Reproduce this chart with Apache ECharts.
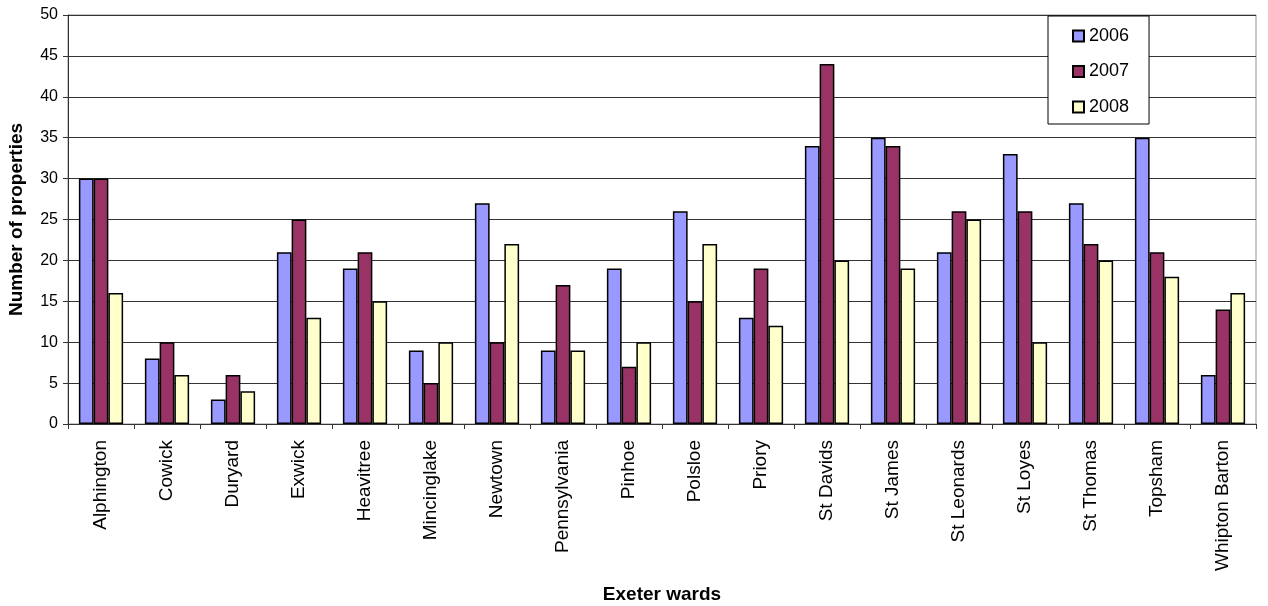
<!DOCTYPE html>
<html>
<head>
<meta charset="utf-8">
<script src="https://cdn.jsdelivr.net/npm/echarts@6/dist/echarts.min.js"></script>
<style>
  html, body { margin: 0; padding: 0; background: #fff; }
  #chart { width: 1268px; height: 606px; }
</style>
</head>
<body>
<div id="chart"></div>
<script>
// Wards of Exeter along the category axis
const wards = ['Alphington', 'Cowick', 'Duryard', 'Exwick', 'Heavitree', 'Mincinglake',
  'Newtown', 'Pennsylvania', 'Pinhoe', 'Polsloe', 'Priory', 'St Davids', 'St James',
  'St Leonards', 'St Loyes', 'St Thomas', 'Topsham', 'Whipton Barton'];

// Number of properties per ward, one array per year
const years = ['2006', '2007', '2008'];
const values2006 = [30, 8, 3, 21, 19, 9, 27, 9, 19, 26, 13, 34, 35, 21, 33, 27, 35, 6];
const values2007 = [30, 10, 6, 25, 21, 5, 10, 17, 7, 15, 19, 44, 34, 26, 26, 22, 21, 14];
const values2008 = [16, 6, 4, 13, 15, 10, 22, 9, 10, 22, 12, 20, 19, 25, 10, 20, 18, 16];

const yTicks = { min: 0, max: 50, interval: 5 };

const FONT = '"Liberation Sans", Arial, sans-serif';
const colors = ['#9999FF', '#993366', '#FFFFCC'];
const seriesData = [values2006, values2007, values2008];

const chart = echarts.init(document.getElementById('chart'));
chart.setOption({
  animation: false,
  backgroundColor: '#ffffff',
  textStyle: { fontFamily: FONT, color: '#000' },
  grid: {
    left: 68, right: 12, top: 15, bottom: 182,
    containLabel: false,
    outerBoundsMode: 'none',
    show: true, borderColor: '#909090', borderWidth: 1, backgroundColor: 'transparent'
  },
  legend: {
    orient: 'vertical',
    left: 1048, top: 16,
    padding: [11, 20, 8, 24],
    itemGap: 17.5,
    itemWidth: 11, itemHeight: 11,
    icon: 'rect',
    borderColor: '#000', borderWidth: 1,
    backgroundColor: '#fff',
    textStyle: { fontFamily: FONT, fontSize: 18, color: '#000', padding: [0, 0, 0, 0] },
    data: years
  },
  xAxis: {
    type: 'category',
    data: wards,
    name: 'Exeter wards',
    nameLocation: 'middle',
    nameGap: 161,
    nameTextStyle: { fontFamily: FONT, fontSize: 19, fontWeight: 'bold', color: '#000' },
    axisLine: { lineStyle: { color: '#333', width: 1 } },
    axisTick: { show: true, length: 5, lineStyle: { color: '#333' } },
    axisLabel: {
      rotate: 90, interval: 0, margin: 16,
      fontFamily: FONT, fontSize: 19, color: '#000'
    }
  },
  yAxis: {
    type: 'value',
    min: yTicks.min, max: yTicks.max, interval: yTicks.interval,
    name: 'Number of properties',
    nameLocation: 'middle',
    nameGap: 42,
    nameRotate: 90,
    nameTextStyle: { fontFamily: FONT, fontSize: 19, fontWeight: 'bold', color: '#000' },
    axisLine: { show: true, lineStyle: { color: '#333', width: 1 } },
    axisTick: { show: true, length: 5, lineStyle: { color: '#333' } },
    axisLabel: { margin: 10, fontFamily: FONT, fontSize: 16, color: '#000' },
    splitLine: { show: true, lineStyle: { color: '#333', width: 1 } }
  },
  series: years.map((y, i) => ({
    name: y,
    type: 'bar',
    data: seriesData[i],
    barGap: '0%',
    barCategoryGap: '33%',
    itemStyle: { color: colors[i], borderColor: '#000', borderWidth: 1.5 }
  }))
});
</script>
</body>
</html>
